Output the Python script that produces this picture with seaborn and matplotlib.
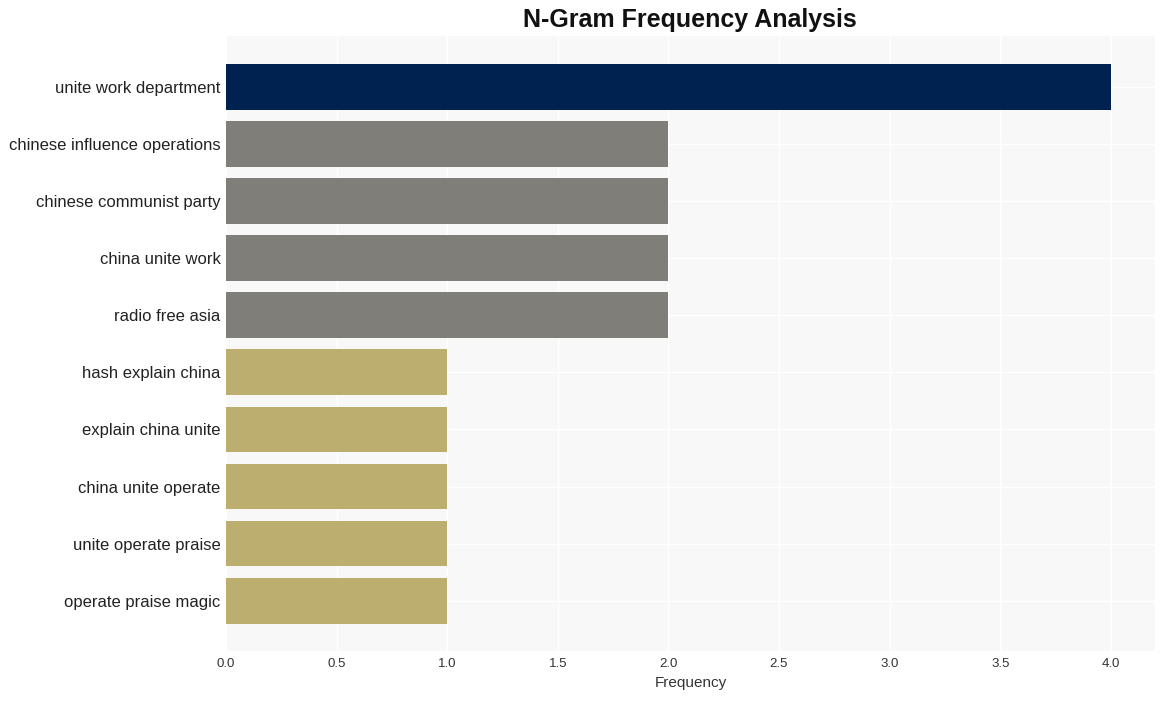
import matplotlib
matplotlib.use("Agg")
import matplotlib.pyplot as plt
import seaborn as sns
import pandas as pd

ngrams = ["unite work department", "chinese influence operations", "chinese communist party",
          "china unite work", "radio free asia", "hash explain china", "explain china unite",
          "china unite operate", "unite operate praise", "operate praise magic"]
freqs = [4, 2, 2, 2, 2, 1, 1, 1, 1, 1]
colors = ["#002251", "#7f7e78", "#7f7e78", "#7f7e78", "#7f7e78",
          "#bcae6e", "#bcae6e", "#bcae6e", "#bcae6e", "#bcae6e"]

sns.set_theme(style="whitegrid")
plt.rcParams['font.family'] = ['Liberation Sans', 'DejaVu Sans']

df = pd.DataFrame({"ngram": ngrams, "freq": freqs})
fig = plt.figure(figsize=(11.65, 7.01), dpi=100)
ax = fig.add_axes([226/1165, 1-651/701, (1155-226)/1165, (651-36)/701])
ax.set_facecolor("#f8f8f8")
sns.barplot(data=df, x="freq", y="ngram", hue="ngram", palette=colors, legend=False,
            orient="h", width=0.8, ax=ax, saturation=1, linewidth=0, edgecolor="none")
ax.grid(True, color="white", linewidth=1)
ax.set_axisbelow(True)
for s in ax.spines.values():
    s.set_visible(False)
ax.set_xlim(0, 4.2)
ax.set_ylim(9.88, -0.89)
ax.set_xticks([0, 0.5, 1.0, 1.5, 2.0, 2.5, 3.0, 3.5, 4.0])
ax.set_xticklabels(["0.0", "0.5", "1.0", "1.5", "2.0", "2.5", "3.0", "3.5", "4.0"])
ax.tick_params(axis="x", labelsize=9.5, colors="#333333", pad=5, length=0)
ax.tick_params(axis="y", labelsize=12, colors="#222222", pad=4, length=0)
ax.set_xlabel("Frequency", fontsize=11, color="#333333", labelpad=4)
ax.set_ylabel("")
fig.text(690/1165, 1-20/701, "N-Gram Frequency Analysis", ha="center", va="center",
         fontsize=18, fontweight="bold", color="#111111")
fig.savefig("out.png", dpi=100, facecolor="white")
